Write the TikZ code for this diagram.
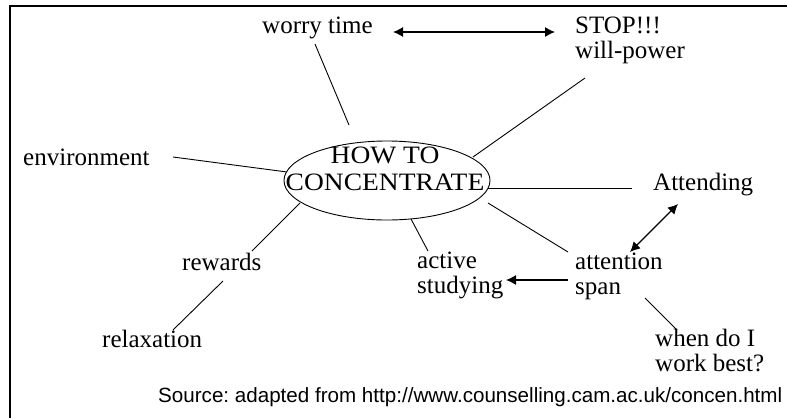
\documentclass[tikz,border=0pt]{standalone}
\usepackage{fontspec}
\setmainfont{Liberation Serif}
\newfontfamily\srcfont{Liberation Sans}
\newfontfamily\hubfont[FakeStretch=1.1]{Liberation Serif}
\usetikzlibrary{shapes.geometric,arrows.meta}
\tikzset{
  lbl/.style={anchor=base west, inner sep=0pt, align=left, font=\fontsize{25}{24.5}\selectfont},
  conn/.style={draw=black, line width=0.9pt},
  tip/.tip={Latex[length=10pt,width=10pt]},
  dblarrow/.style={conn, line width=1.2pt, tip-tip},
  onearrow/.style={conn, line width=1.2pt, -tip},
}
\begin{document}
\begin{tikzpicture}[x=1pt,y=-1pt]
\useasboundingbox (0,0) rectangle (787,418);
% frame
\draw[line width=1.8pt] (10,418) -- (10,6) -- (787,6);
% hub
\node[ellipse, draw, line width=0.9pt, minimum width=206pt, minimum height=79pt, inner sep=0pt] (hub) at (387,180.5) {};
\node[inner sep=0pt, align=center, anchor=base, font=\hubfont\fontsize{25}{27}\selectfont] (hubtext) at (385,190) {HOW TO\\CONCENTRATE};
% labels
\node[lbl] (worry) at (262,33) {worry time};
\node[lbl] (stop) at (575,58) {STOP!!!\\will-power};
\node[lbl] (env) at (23,165) {environment};
\node[lbl] (attending) at (653,190) {Attending};
\node[lbl] (attention) at (575,294) {attention\\span};
\node[lbl] (active) at (417,293) {active\\studying};
\node[lbl] (when) at (655,371) {when do I\\work best?};
\node[lbl] (rewards) at (182,270) {rewards};
\node[lbl] (relax) at (102,347) {relaxation};
\node[anchor=base west, inner sep=0pt, font=\srcfont\fontsize{20.6}{24}\selectfont] (source) at (158,402) {\frenchspacing Source: adapted from http://www.counselling.cam.ac.uk/concen.html};
% connector end points
\coordinate (worryS) at (315,44);
\coordinate (worryE) at (349,125);
\coordinate (arrA) at (393,32);
\coordinate (arrB) at (555,32);
\coordinate (stopS) at (585,78);
\coordinate (hubNE) at (473,157);
\coordinate (envE) at (173,157);
\coordinate (hubW) at (287,172);
\coordinate (hubE) at (488,188);
\coordinate (attW) at (632,188);
\coordinate (attnA) at (678,204);
\coordinate (attnB) at (630,252);
\coordinate (hubSE) at (488,203);
\coordinate (attnW) at (568,252);
\coordinate (spanW) at (568,280);
\coordinate (studE) at (506,280);
\coordinate (hubS) at (411,219);
\coordinate (actN) at (428,251);
\coordinate (spanS) at (645,298);
\coordinate (whenN) at (677,330);
\coordinate (hubSW) at (300,203);
\coordinate (rewN) at (252,251);
\coordinate (rewS) at (223,281);
\coordinate (relN) at (173,330);
% connectors
\draw[conn] (worryS) -- (worryE);
\draw[dblarrow] (arrA) -- (arrB);
\draw[conn] (stopS) -- (hubNE);
\draw[conn] (envE) -- (hubW);
\draw[conn] (hubE) -- (attW);
\draw[dblarrow] (attnA) -- (attnB);
\draw[conn] (hubSE) -- (attnW);
\draw[onearrow] (spanW) -- (studE);
\draw[conn] (hubS) -- (actN);
\draw[conn] (spanS) -- (whenN);
\draw[conn] (hubSW) -- (rewN);
\draw[conn] (rewS) -- (relN);
\end{tikzpicture}
\end{document}
